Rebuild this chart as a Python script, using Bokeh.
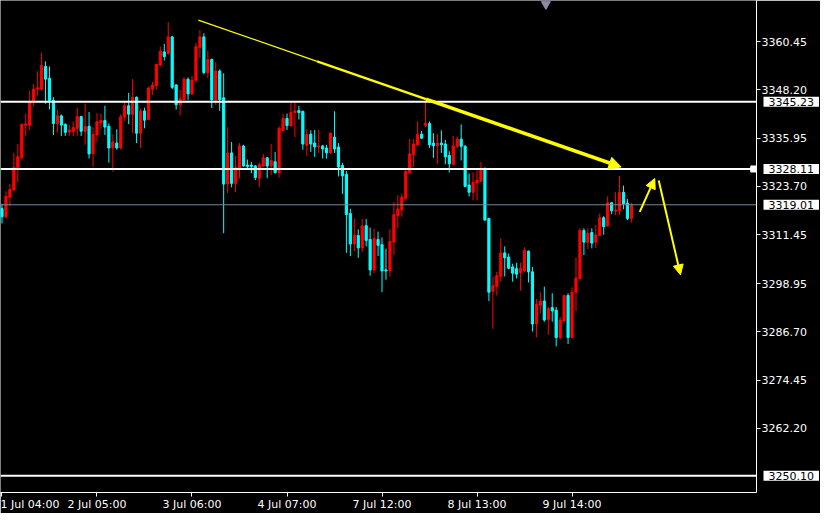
from bokeh.plotting import figure
from bokeh.layouts import row
from bokeh.models import (Span, Label, Arrow, NormalHead, FixedTicker, Range1d,
                          ColumnDataSource, PrintfTickFormatter)
from bokeh.embed import file_html
from bokeh.resources import INLINE

# ---------------- data ----------------
opens = [3318.02, 3315.95, 3320.95, 3322.77, 3328.45, 3330.95, 3339.20, 3339.27, 3345.52, 3348.45,
         3348.45, 3354.20, 3351.20, 3345.52, 3339.70, 3341.62, 3339.45, 3337.52, 3337.62, 3338.45,
         3341.45, 3337.70, 3338.95, 3332.02, 3336.77, 3339.87, 3340.45, 3338.95, 3333.45, 3334.70,
         3333.45, 3341.37, 3344.20, 3342.02, 3346.37, 3337.20, 3342.87, 3340.70, 3348.45, 3349.27,
         3354.52, 3357.87, 3357.45, 3361.70, 3349.45, 3344.45, 3345.70, 3350.95, 3347.20, 3350.70,
         3359.02, 3361.70, 3352.62, 3355.95, 3345.70, 3353.02, 3346.20, 3324.27, 3332.20, 3324.45,
         3328.02, 3333.95, 3329.12, 3329.12, 3328.87, 3325.77, 3328.87, 3330.95, 3328.87, 3329.95,
         3327.20, 3337.87, 3340.95, 3339.12, 3342.45, 3342.95, 3342.77, 3334.12, 3336.95, 3334.70,
         3333.70, 3333.95, 3333.45, 3332.20, 3336.20, 3333.70, 3329.02, 3326.77, 3316.77, 3309.02,
         3311.20, 3308.02, 3313.70, 3310.20, 3302.45, 3310.20, 3308.87, 3302.45, 3302.20, 3309.52,
         3316.27, 3317.70, 3320.70, 3327.20, 3331.77, 3334.27, 3336.95, 3339.20, 3339.70, 3334.70,
         3334.02, 3334.70, 3334.45, 3331.52, 3329.27, 3333.87, 3335.70, 3333.87, 3324.02, 3322.20,
         3324.52, 3325.02, 3328.27, 3315.52, 3297.02, 3298.27, 3300.77, 3306.77, 3305.70, 3303.20,
         3302.77, 3301.77, 3302.20, 3307.20, 3301.95, 3288.70, 3293.45, 3294.52, 3289.87, 3292.87,
         3292.20, 3285.27, 3289.45, 3295.95, 3285.27, 3296.77, 3300.27, 3312.45, 3309.45, 3311.95,
         3309.52, 3311.20, 3315.70, 3313.62, 3319.52, 3317.37, 3317.45, 3322.20, 3319.45, 3315.52]

highs = [3319.27, 3322.45, 3324.27, 3332.20, 3334.45, 3339.70, 3342.20, 3348.02, 3349.70, 3352.95,
         3357.70, 3355.45, 3354.20, 3346.37, 3343.20, 3341.95, 3339.70, 3339.27, 3340.12, 3343.70,
         3341.62, 3344.70, 3342.62, 3338.70, 3342.37, 3342.20, 3344.20, 3339.70, 3336.95, 3338.20,
         3342.02, 3345.12, 3347.45, 3350.95, 3346.52, 3343.45, 3343.70, 3349.02, 3350.27, 3354.95,
         3359.20, 3359.95, 3365.45, 3361.95, 3349.70, 3348.20, 3351.45, 3351.37, 3351.77, 3360.12,
         3363.45, 3362.62, 3358.20, 3356.20, 3355.27, 3353.45, 3352.45, 3338.70, 3334.95, 3331.37,
         3334.70, 3334.27, 3330.52, 3329.87, 3329.12, 3329.70, 3331.95, 3331.20, 3334.45, 3332.45,
         3338.87, 3342.20, 3342.20, 3344.95, 3344.95, 3344.12, 3342.95, 3338.27, 3337.95, 3338.02,
         3338.02, 3334.27, 3334.27, 3337.45, 3342.77, 3334.70, 3329.70, 3327.62, 3318.02, 3315.52,
         3312.77, 3315.45, 3315.37, 3313.20, 3312.87, 3312.20, 3310.70, 3307.87, 3312.77, 3319.70,
         3321.45, 3321.77, 3328.02, 3335.70, 3335.70, 3340.20, 3337.77, 3345.37, 3340.20, 3337.20,
         3337.02, 3337.95, 3335.52, 3332.62, 3336.52, 3336.37, 3339.45, 3334.20, 3326.95, 3327.20,
         3327.77, 3329.95, 3328.45, 3315.70, 3300.70, 3301.95, 3310.52, 3308.45, 3306.62, 3304.02,
         3304.27, 3304.27, 3308.20, 3307.37, 3303.20, 3295.12, 3296.77, 3298.20, 3293.02, 3296.52,
         3293.02, 3290.52, 3296.12, 3296.52, 3298.02, 3305.52, 3313.02, 3313.02, 3313.02, 3313.02,
         3313.87, 3316.77, 3316.12, 3321.12, 3319.70, 3322.20, 3326.37, 3323.87, 3320.52, 3319.52]

lows = [3314.27, 3315.52, 3318.70, 3322.70, 3324.70, 3330.52, 3336.52, 3338.02, 3344.02, 3346.77,
        3348.02, 3344.70, 3343.27, 3336.77, 3337.37, 3336.52, 3336.52, 3336.52, 3336.52, 3336.52,
        3336.52, 3334.27, 3330.77, 3328.70, 3335.12, 3338.20, 3336.77, 3329.70, 3327.45, 3333.02,
        3333.02, 3340.27, 3339.52, 3337.20, 3334.70, 3333.45, 3338.45, 3340.52, 3346.95, 3348.27,
        3354.27, 3355.70, 3357.20, 3348.45, 3343.20, 3341.77, 3345.70, 3345.70, 3346.95, 3350.12,
        3356.37, 3352.20, 3351.20, 3343.62, 3344.45, 3342.87, 3311.77, 3322.02, 3323.45, 3322.20,
        3325.70, 3328.70, 3327.87, 3327.02, 3325.27, 3323.45, 3328.70, 3325.77, 3326.52, 3326.95,
        3325.95, 3337.62, 3338.02, 3338.87, 3336.20, 3340.70, 3333.02, 3331.52, 3332.45, 3331.20,
        3332.20, 3330.77, 3330.77, 3332.02, 3332.20, 3326.20, 3321.77, 3306.77, 3305.95, 3307.20,
        3305.52, 3306.95, 3308.45, 3300.95, 3301.62, 3305.95, 3296.77, 3299.95, 3300.77, 3306.20,
        3313.02, 3315.95, 3320.12, 3327.20, 3328.62, 3334.02, 3335.70, 3338.70, 3333.45, 3330.95,
        3329.45, 3332.20, 3329.27, 3327.20, 3329.02, 3333.45, 3330.27, 3323.45, 3321.12, 3320.12,
        3320.12, 3324.87, 3314.95, 3294.52, 3287.45, 3295.95, 3299.45, 3300.77, 3302.62, 3299.45,
        3300.27, 3297.20, 3301.95, 3299.27, 3286.77, 3285.27, 3291.37, 3289.27, 3285.95, 3289.27,
        3283.02, 3284.70, 3289.12, 3283.62, 3285.12, 3291.95, 3299.95, 3306.20, 3307.77, 3307.95,
        3308.02, 3311.12, 3311.37, 3313.45, 3316.62, 3316.37, 3316.37, 3317.87, 3315.12, 3314.52]

closes = [3315.95, 3321.12, 3322.87, 3328.45, 3331.20, 3339.45, 3339.52, 3345.27, 3348.45, 3348.77,
          3354.45, 3350.95, 3345.52, 3339.70, 3341.62, 3339.27, 3337.45, 3338.02, 3338.62, 3341.45,
          3337.70, 3338.95, 3331.95, 3336.95, 3340.12, 3340.45, 3338.77, 3333.45, 3334.95, 3333.45,
          3341.37, 3344.20, 3342.02, 3346.37, 3337.20, 3342.87, 3340.52, 3348.70, 3349.45, 3354.70,
          3358.02, 3356.70, 3361.70, 3348.87, 3344.45, 3345.95, 3350.95, 3347.20, 3350.70, 3359.20,
          3361.70, 3352.62, 3355.95, 3345.70, 3353.02, 3345.70, 3324.27, 3332.20, 3324.45, 3328.45,
          3333.95, 3328.87, 3328.77, 3328.77, 3325.95, 3329.20, 3330.95, 3328.87, 3330.27, 3327.20,
          3338.45, 3340.95, 3339.12, 3342.45, 3342.87, 3342.45, 3334.45, 3336.95, 3334.45, 3333.70,
          3333.95, 3333.20, 3332.20, 3337.20, 3333.20, 3328.62, 3326.37, 3316.52, 3309.02, 3311.20,
          3308.02, 3313.62, 3309.95, 3302.45, 3310.45, 3308.70, 3302.20, 3302.20, 3309.70, 3316.52,
          3317.95, 3320.95, 3327.45, 3331.95, 3334.45, 3336.95, 3335.95, 3339.77, 3334.27, 3334.02,
          3334.70, 3334.27, 3331.20, 3329.45, 3333.95, 3335.70, 3333.87, 3323.70, 3322.20, 3324.70,
          3325.27, 3328.27, 3315.12, 3296.77, 3298.45, 3300.95, 3306.77, 3305.52, 3302.87, 3301.62,
          3301.37, 3302.77, 3307.45, 3301.95, 3288.70, 3293.70, 3294.52, 3289.70, 3292.62, 3292.02,
          3285.27, 3289.70, 3295.95, 3285.27, 3296.77, 3300.37, 3312.45, 3309.52, 3311.77, 3309.27,
          3311.37, 3315.70, 3313.45, 3319.52, 3317.45, 3317.62, 3322.20, 3319.27, 3315.52, 3319.01]

price_ticks = [3360.45, 3348.20, 3335.95, 3323.70, 3311.45, 3298.95, 3286.70, 3274.45, 3262.20]
time_ticks = [0, 24, 48, 72, 96, 120, 144]
time_labels = ["1 Jul 04:00", "2 Jul 05:00", "3 Jul 06:00", "4 Jul 07:00",
               "7 Jul 12:00", "8 Jul 13:00", "9 Jul 14:00"]

white_levels = [3345.23, 3328.11, 3250.10]
bid_price = 3319.01

# drawn trend line (bar index, price), tapering segments
trend_x = [49.6, 79.6, 107.1, 156.4]
trend_y = [3365.95, 3355.48, 3345.87, 3328.62]
# small projection arrows (x0, y0, x1, y1)
up_arrow = (161.1, 3317.20, 164.9, 3325.70)
down_arrow = (165.9, 3325.20, 171.4, 3301.20)
shift_marker = (137.4, 3370.0)
line_end_marker = (189.9, 3328.11)

# ---------------- main figure ----------------
X0, X1 = -0.375, 190.6
Y0, Y1 = 3245.85, 3370.95
FW, FH = 756, 492
RIGHT, BOTTOM = 64, 20
FONT = "DejaVu Sans"

p = figure(frame_width=FW, frame_height=FH,
           x_range=Range1d(X0, X1), y_range=Range1d(Y0, Y1),
           output_backend="svg", toolbar_location=None,
           y_axis_location="right",
           min_border_left=0, min_border_top=0, min_border_right=RIGHT, min_border_bottom=BOTTOM,
           background_fill_color="black", border_fill_color="black")
p.outline_line_color = None
p.grid.visible = False

yax = p.yaxis[0]
yax.ticker = FixedTicker(ticks=price_ticks)
yax.formatter = PrintfTickFormatter(format="%.2f")
yax.axis_line_color = "white"
yax.major_tick_line_color = "white"
yax.major_tick_out = 4
yax.major_tick_in = 0
yax.minor_tick_line_color = None
yax.major_label_text_color = "white"
yax.major_label_text_font = FONT
yax.major_label_text_font_size = "11px"
yax.major_label_standoff = 1

xax = p.xaxis[0]
xax.ticker = FixedTicker(ticks=time_ticks)
xax.major_label_overrides = {t: lab for t, lab in zip(time_ticks, time_labels)}
xax.axis_line_color = "white"
xax.major_tick_line_color = "white"
xax.major_tick_out = 4
xax.major_tick_in = 0
xax.minor_tick_line_color = None
xax.major_label_text_color = "white"
xax.major_label_text_font = FONT
xax.major_label_text_font_size = "11px"
xax.major_label_text_align = "left"
xax.major_label_standoff = 1

# levels
for lv in white_levels:
    p.add_layout(Span(location=lv, dimension="width", line_color="white", line_width=2))
p.add_layout(Span(location=bid_price, dimension="width", line_color="#778899", line_width=1))
p.scatter([line_end_marker[0]], [line_end_marker[1]], marker="square", size=6,
          fill_color="white", line_color="white")

# candles
xs = list(range(len(opens)))
cols = ["#ff0000" if c >= o else "#00ffff" for o, c in zip(opens, closes)]
src = ColumnDataSource(dict(
    x=xs,
    top=[max(o, c) for o, c in zip(opens, closes)],
    bottom=[min(o, c) for o, c in zip(opens, closes)],
    high=highs, low=lows, color=cols))
p.segment(x0="x", y0="high", x1="x", y1="low", color="color", line_width=1, source=src)
p.vbar(x="x", top="top", bottom="bottom", width=0.55, fill_color="color",
       line_color="color", line_width=1, source=src)

# trend line (thin -> thick)
p.line(trend_x[0:2], trend_y[0:2], line_color="#ffff00", line_width=1.2)
p.line(trend_x[1:3], trend_y[1:3], line_color="#ffff00", line_width=2.2)
p.add_layout(Arrow(x_start=trend_x[2], y_start=trend_y[2], x_end=trend_x[3], y_end=trend_y[3],
                   line_color="#ffff00", line_width=3.5,
                   end=NormalHead(size=12, fill_color="#ffff00", line_color="#ffff00")))

for a in (up_arrow, down_arrow):
    p.add_layout(Arrow(x_start=a[0], y_start=a[1], x_end=a[2], y_end=a[3],
                       line_color="#ffff00", line_width=2,
                       end=NormalHead(size=10, fill_color="#ffff00", line_color="#ffff00")))

p.scatter([shift_marker[0]], [shift_marker[1]], marker="inverted_triangle", size=9,
          fill_color="#8a8aa8", line_color="#8a8aa8")

# ---------------- overlay for the price boxes on the right scale ----------------
side = figure(frame_width=RIGHT, frame_height=FH, x_range=Range1d(0, RIGHT), y_range=p.y_range,
              output_backend="svg", toolbar_location=None,
              x_axis_location=None, y_axis_location=None,
              min_border_left=0, min_border_top=0, min_border_right=0, min_border_bottom=BOTTOM,
              background_fill_color=None, border_fill_color=None)
side.outline_line_color = None
side.grid.visible = False
side.margin = (0, 0, 0, -RIGHT)

for lv in white_levels + [bid_price]:
    side.add_layout(Label(x=7, x_units="screen", y=lv, text=f"{lv:.2f}", text_font=FONT,
                          text_font_size="11px", text_color="black", text_baseline="middle",
                          text_align="left", background_fill_color="white",
                          padding=(5, 1)))

layout = row(p, side)
layout.margin = (0, 0, 0, 0)

open("out.html", "w").write(file_html(layout, INLINE))
